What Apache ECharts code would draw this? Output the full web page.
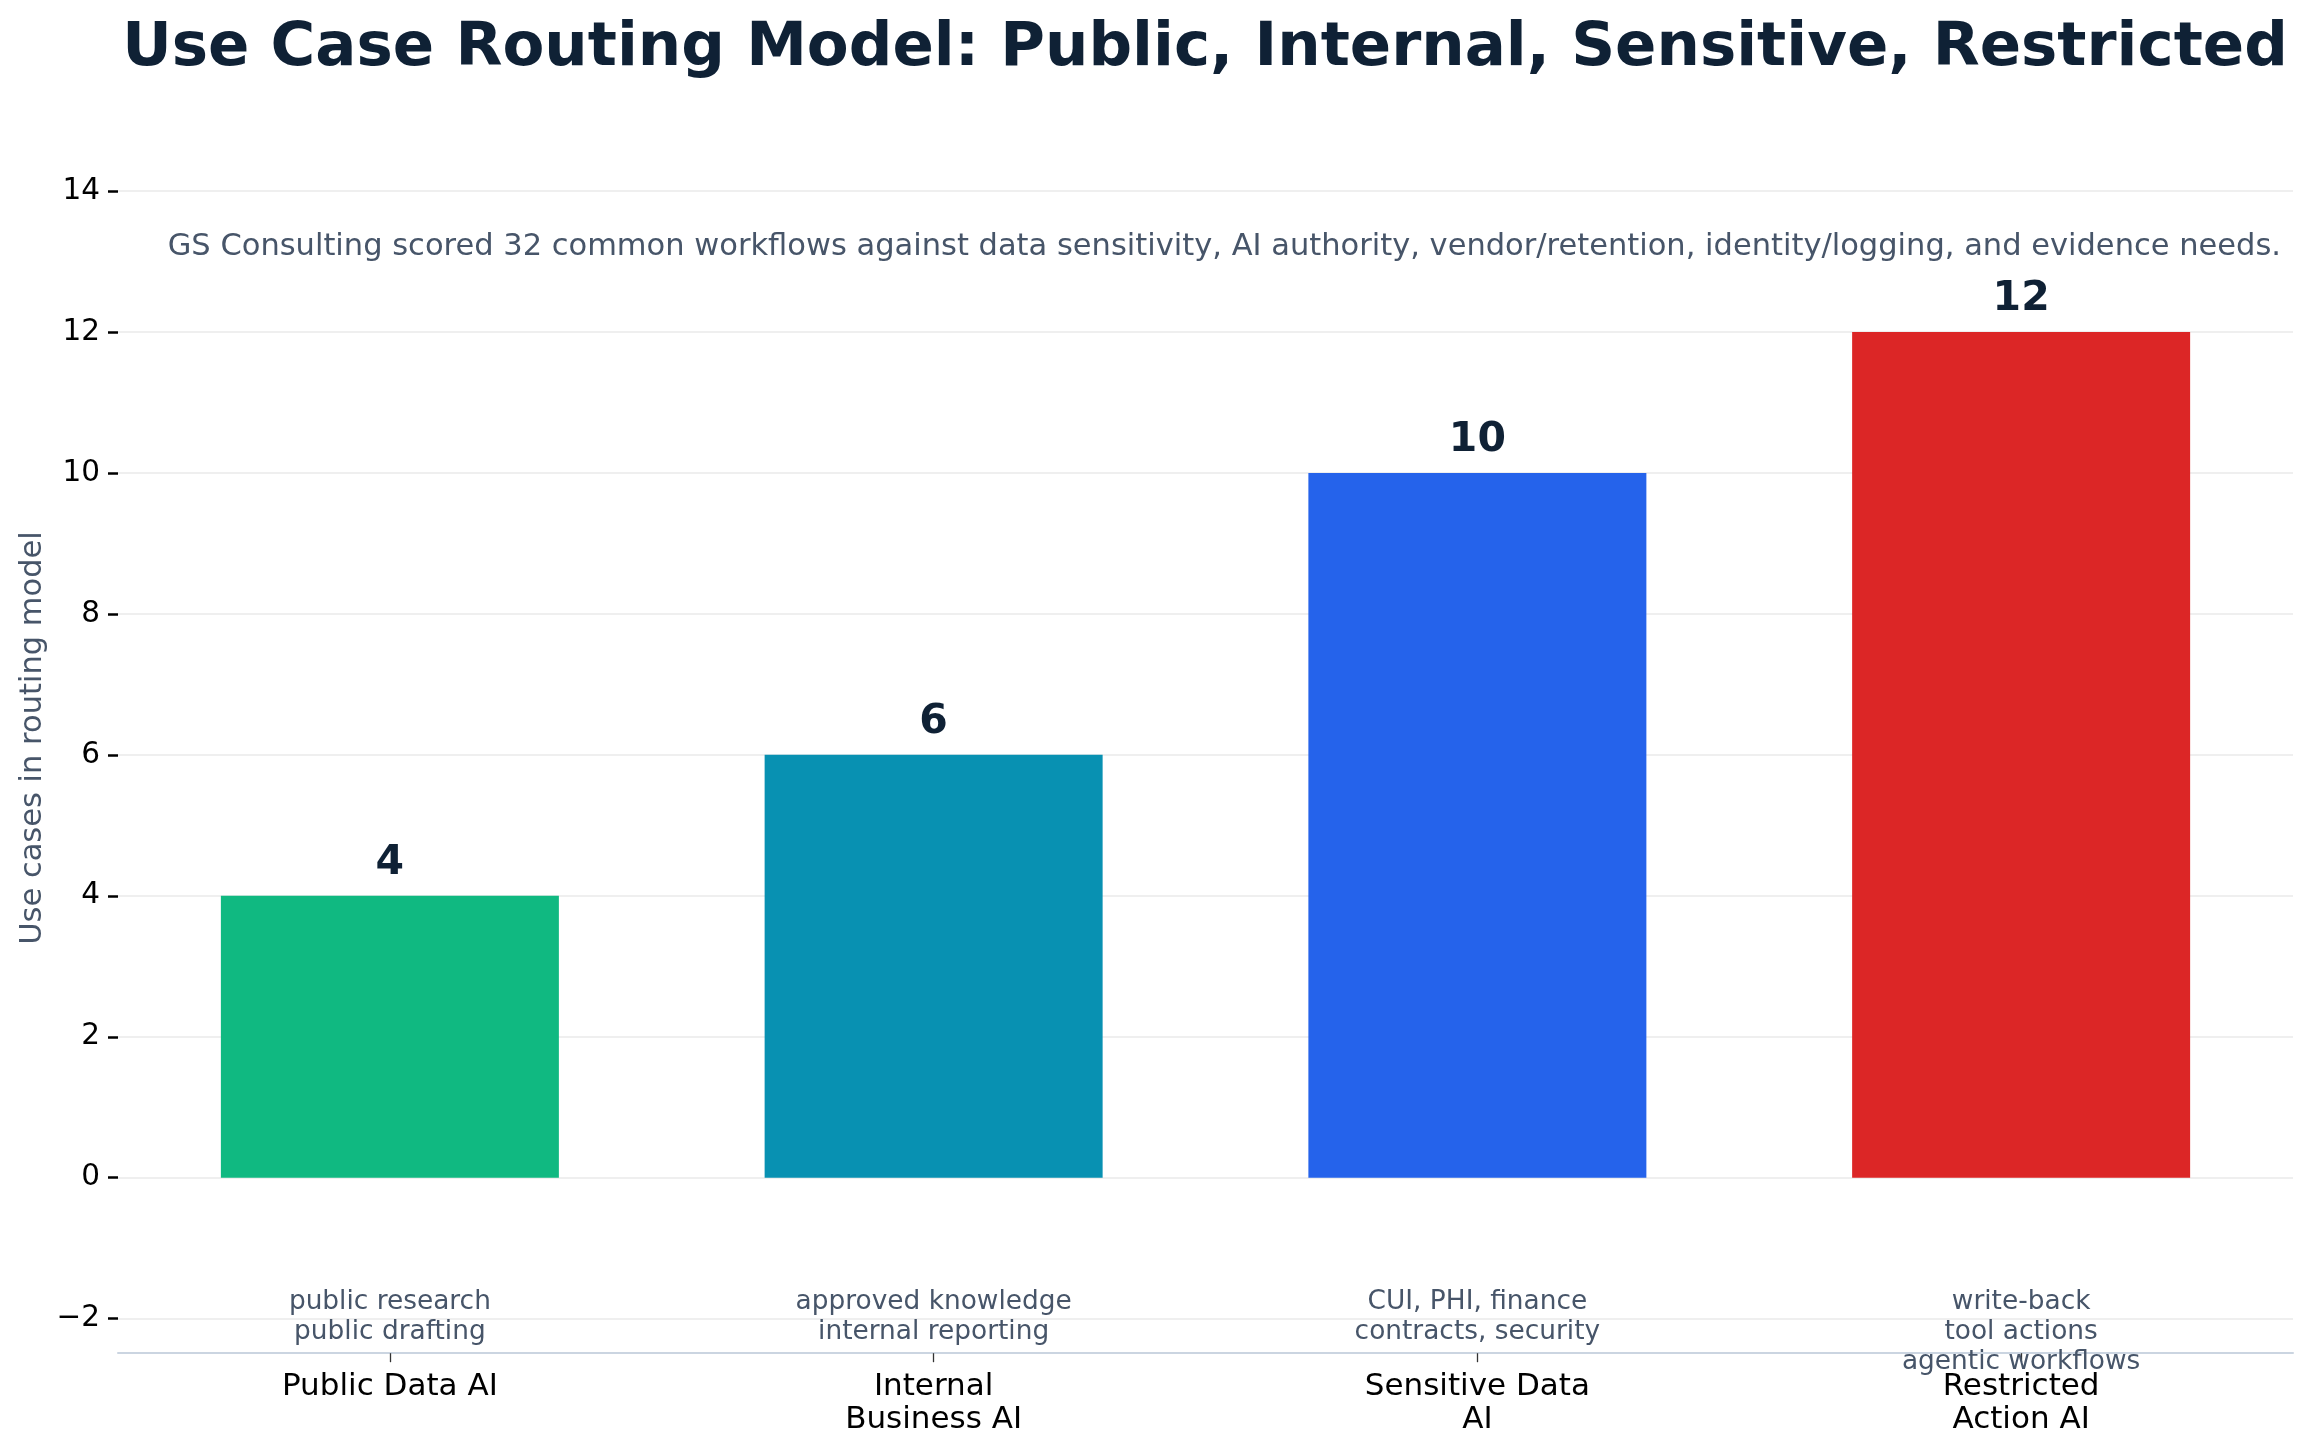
<!DOCTYPE html>
<html>
<head>
<meta charset="utf-8">
<script src="https://cdn.jsdelivr.net/npm/echarts@6/dist/echarts.min.js"></script>
<style>
html,body{margin:0;padding:0;background:#fff;}
#chart{width:2310px;height:1455px;}
</style>
</head>
<body>
<div id="chart"></div>
<script>
// ---- data ----
const categories = ['Public Data AI', 'Internal\nBusiness AI', 'Sensitive Data\nAI', 'Restricted\nAction AI'];
const useCases = [4, 6, 10, 12];
const descriptors = [
  'public research\npublic drafting',
  'approved knowledge\ninternal reporting',
  'CUI, PHI, finance\ncontracts, security',
  'write-back\ntool actions\nagentic workflows'
];
const yTicks = { min: -2, max: 14, step: 2 };
const titleText = 'Use Case Routing Model: Public, Internal, Sensitive, Restricted';
const subtitleText = 'GS Consulting scored 32 common workflows against data sensitivity, AI authority, vendor/retention, identity/logging, and evidence needs.';
const yAxisTitle = 'Use cases in routing model';

// ---- styles ----
const barColors = ['#10b981', '#0891b2', '#2563eb', '#dc2626'];
const FONT = 'DejaVu Sans';
const NAVY = '#0f2135';
const SLATE = '#475569';

const chart = echarts.init(document.getElementById('chart'), null, { renderer: 'canvas' });

const option = {
  backgroundColor: '#ffffff',
  animation: false,
  grid: {
    left: 118, right: 17, top: 191, bottom: 136.3,
    containLabel: false, outerBoundsMode: 'none'
  },
  xAxis: {
    type: 'category',
    data: categories,
    offset: 34.5,
    axisLine: { show: true, onZero: false, lineStyle: { color: '#cbd5e1', width: 2 } },
    axisTick: { show: true, alignWithLabel: true, length: 9, lineStyle: { color: '#333333', width: 1.3 } },
    axisLabel: {
      color: '#000000', fontFamily: FONT, fontSize: 31, lineHeight: 33, margin: 17,
      interval: 0
    },
    splitLine: { show: false }
  },
  yAxis: {
    type: 'value',
    min: yTicks.min, max: yTicks.max, interval: yTicks.step,
    axisLine: { show: false },
    axisTick: { show: true, length: 10, lineStyle: { color: '#000000', width: 2.5 } },
    axisLabel: {
      color: '#000000', fontFamily: FONT, fontSize: 29.5, margin: 18,
      formatter: v => (v < 0 ? '\u2212' + Math.abs(v) : String(v))
    },
    splitLine: { show: true, lineStyle: { color: '#efefef', width: 2 } }
  },
  series: [{
    type: 'bar',
    data: useCases.map((v, i) => ({ value: v, itemStyle: { color: barColors[i] } })),
    barWidth: 338,
    z: 3,
    label: {
      show: true, position: 'top', distance: 12,
      fontFamily: FONT, fontSize: 41, fontWeight: 'bold', color: NAVY
    }
  }]
};
chart.setOption(option);

function buildGraphics() {
  const yDesc = chart.convertToPixel({ yAxisIndex: 0 }, yTicks.min) - 32;
  const elems = [];
  elems.push({
    type: 'text', x: 1205, y: 49.5, z: 10,
    style: { text: titleText, font: 'bold 61px "' + FONT + '"', fill: NAVY, align: 'center', verticalAlign: 'middle' }
  });
  elems.push({
    type: 'text', x: 2281, y: 246.7, z: 10,
    style: { text: subtitleText, font: '30.5px "' + FONT + '"', fill: SLATE, align: 'right', verticalAlign: 'middle' }
  });
  elems.push({
    type: 'text', x: 33, y: 738, rotation: Math.PI / 2, z: 10,
    style: { text: yAxisTitle, font: '30.5px "' + FONT + '"', fill: SLATE, align: 'center', verticalAlign: 'middle' }
  });
  categories.forEach((c, i) => {
    const xp = chart.convertToPixel({ xAxisIndex: 0 }, c);
    elems.push({
      type: 'text', x: xp, y: yDesc, z: 10,
      style: { text: descriptors[i], font: '26.4px "' + FONT + '"', fill: SLATE, align: 'center', verticalAlign: 'top', lineHeight: 30 }
    });
  });
  chart.setOption({ graphic: elems });
}
buildGraphics();
</script>
</body>
</html>
